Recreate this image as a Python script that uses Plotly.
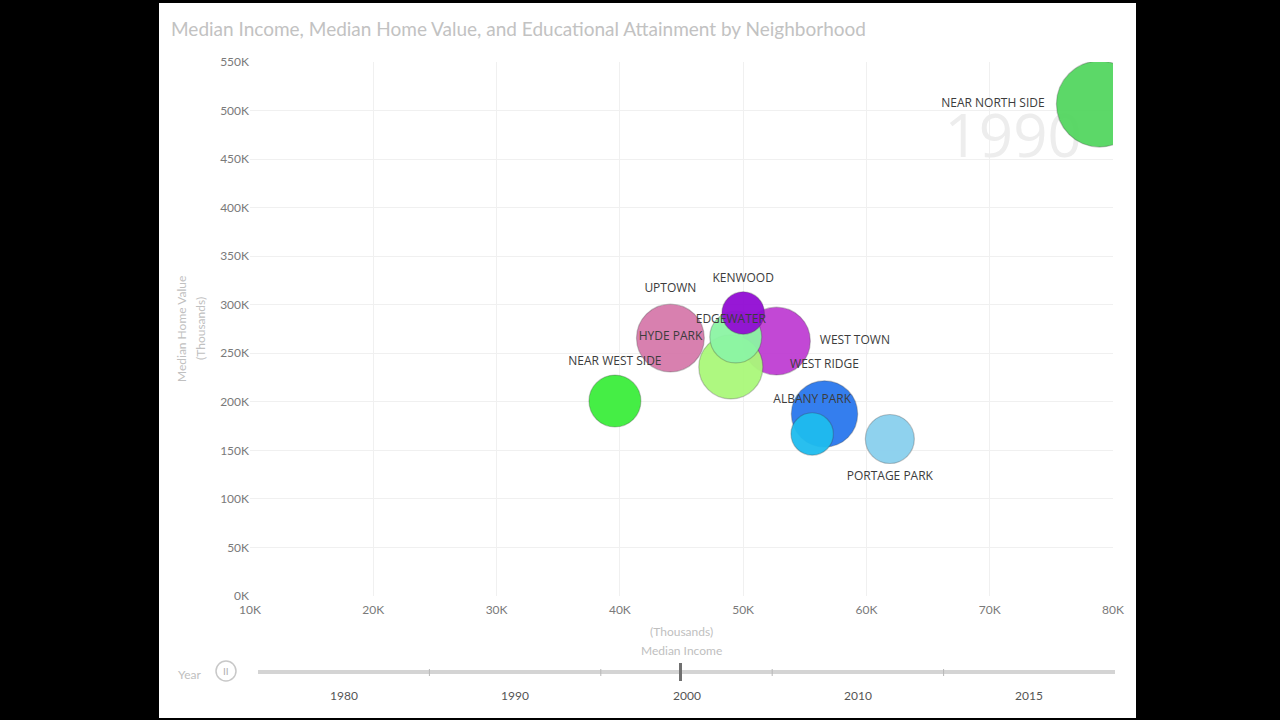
import plotly.graph_objects as go

# ---------------- data (drawn in this order: larger bubbles first) ----------------
neighborhoods = ["NEAR NORTH SIDE", "UPTOWN", "WEST TOWN", "WEST RIDGE", "EDGEWATER",
                 "NEAR WEST SIDE", "HYDE PARK", "PORTAGE PARK", "ALBANY PARK", "KENWOOD"]
median_income = [78900, 44100, 52700, 56600, 49000, 39600, 49400, 61900, 55600, 50000]
median_home_value = [506700, 265700, 262600, 187500, 235900, 200800, 266800, 161700, 166900, 291500]
educ_attainment = [74, 46, 46, 44, 41, 27, 27, 24, 18, 18]
label_positions = ["middle left", "top center", "middle right", "top center", "top center",
                   "top center", "middle left", "bottom center", "top center", "top center"]
bubble_colors = ["#54d660", "#d67aab", "#bf3fd3", "#2a78ee", "#aaf87a",
                 "#3cee3c", "#8cf5a4", "#8ad0ee", "#1ebcef", "#920cd4"]

x_ticks = [10000, 20000, 30000, 40000, 50000, 60000, 70000, 80000]
y_ticks = [0, 50000, 100000, 150000, 200000, 250000, 300000, 350000, 400000, 450000, 500000, 550000]
slider_years = ["1980", "1990", "2000", "2010", "2015"]
current_year_index = 2
watermark_year = "1990"

title_text = "Median Income, Median Home Value, and Educational Attainment by Neighborhood"

# ---------------- layout geometry ----------------
W, H = 1280, 720
ML, MR, MT, MB = 250, 167, 62, 124
PW, PH = W - ML - MR, H - MT - MB


def px(xp):
    return (xp - ML) / PW


def py(yp):
    return (H - MB - yp) / PH


max_diam = 86
sizeref = 2.0 * max(educ_attainment) / (max_diam ** 2)

fig = go.Figure()

# faint watermark year behind bubbles
fig.add_trace(go.Scatter(
    x=[71900], y=[468000], mode="text", text=[watermark_year],
    textfont=dict(family="Open Sans", size=60, color="#ededed"),
    hoverinfo="skip", showlegend=False, cliponaxis=False,
))

fig.add_trace(go.Scatter(
    x=median_income, y=median_home_value, mode="markers+text",
    text=neighborhoods, textposition=label_positions,
    textfont=dict(family="Open Sans", size=12, color="#3c3c3c"),
    marker=dict(size=educ_attainment, sizemode="area", sizeref=sizeref,
                color=bubble_colors, opacity=0.95,
                line=dict(width=1.2, color="rgba(60,60,60,0.3)")),
    showlegend=False, cliponaxis=True,
))

shapes = [
    dict(type="rect", xref="paper", yref="paper", x0=px(159), x1=px(1136), y0=py(718), y1=py(3),
         fillcolor="white", line=dict(width=0), layer="below"),
]

annotations = [
    dict(text=title_text, xref="paper", yref="paper", x=px(169), y=py(28), xanchor="left",
         yanchor="middle", showarrow=False, font=dict(family="Lato", size=19, color="#c2c2c2")),
    dict(text="(Thousands)", xref="paper", yref="paper", x=0.5, y=py(631), showarrow=False,
         xanchor="center", yanchor="middle", font=dict(family="Lato", size=12, color="#c0c0c0")),
    dict(text="Median Income", xref="paper", yref="paper", x=0.5, y=py(650), showarrow=False,
         xanchor="center", yanchor="middle", font=dict(family="Lato", size=12, color="#c0c0c0")),
    dict(text="Median Home Value", xref="paper", yref="paper", x=px(181), y=py(329), showarrow=False,
         textangle=-90, xanchor="center", yanchor="middle",
         font=dict(family="Lato", size=12, color="#c0c0c0")),
    dict(text="(Thousands)", xref="paper", yref="paper", x=px(200), y=py(329), showarrow=False,
         textangle=-90, xanchor="center", yanchor="middle",
         font=dict(family="Lato", size=12, color="#c0c0c0")),
    dict(text="Year", xref="paper", yref="paper", x=px(189), y=py(674), showarrow=False,
         xanchor="center", yanchor="middle", font=dict(family="Lato", size=12, color="#c0c0c0")),
    dict(text="II", xref="paper", yref="paper", x=px(226), y=py(671), showarrow=False,
         xanchor="center", yanchor="middle", font=dict(family="Lato", size=10, color="#b0b0b0")),
]

# play button
shapes.append(dict(type="circle", xref="paper", yref="paper", x0=px(216), x1=px(236),
                   y0=py(681), y1=py(661), line=dict(color="#c8c8c8", width=1.5)))

# slider
track_x0, track_x1, track_y = 258, 1115, 672
seg = (track_x1 - track_x0) / len(slider_years)
shapes.append(dict(type="line", xref="paper", yref="paper", x0=px(track_x0), x1=px(track_x1),
                   y0=py(track_y), y1=py(track_y), line=dict(color="#d4d4d4", width=4)))
for i in range(1, len(slider_years)):
    xb = track_x0 + i * seg
    shapes.append(dict(type="line", xref="paper", yref="paper", x0=px(xb), x1=px(xb),
                       y0=py(track_y - 3), y1=py(track_y + 4), line=dict(color="#b8b8b8", width=1)))
for i, yr in enumerate(slider_years):
    xc = track_x0 + (i + 0.5) * seg
    annotations.append(dict(text=yr, xref="paper", yref="paper", x=px(xc), y=py(695),
                            showarrow=False, xanchor="center", yanchor="middle",
                            font=dict(family="Lato", size=12, color="#555555")))
thumb_x = track_x0 + (current_year_index + 0.5) * seg - 6
shapes.append(dict(type="line", xref="paper", yref="paper", x0=px(thumb_x), x1=px(thumb_x),
                   y0=py(663), y1=py(681), line=dict(color="#707070", width=3)))

fig.update_layout(
    width=W, height=H,
    margin=dict(l=ML, r=MR, t=MT, b=MB, pad=0),
    paper_bgcolor="black", plot_bgcolor="white",
    shapes=shapes, annotations=annotations,
    showlegend=False,
    xaxis=dict(range=[10000, 80000], tickvals=x_ticks,
               ticktext=[f"{v // 1000}K" for v in x_ticks],
               showgrid=True, gridcolor="#f0f0f0", gridwidth=1, zeroline=False, showline=False,
               tickfont=dict(family="Lato", size=12, color="#7a7a7a"), ticks="", ticklen=0,
               ticklabelstandoff=5),
    yaxis=dict(range=[0, 550000], tickvals=y_ticks,
               ticktext=[f"{v // 1000}K" for v in y_ticks],
               showgrid=True, gridcolor="#f0f0f0", gridwidth=1, zeroline=False, showline=False,
               tickfont=dict(family="Lato", size=12, color="#7a7a7a"), ticks="", ticklen=0),
)

fig.write_html("out.html")
